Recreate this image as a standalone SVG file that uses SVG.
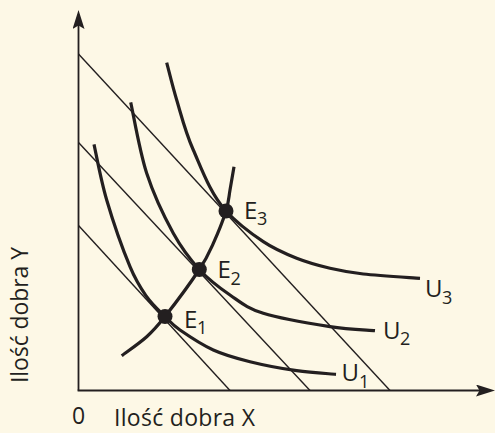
<svg xmlns="http://www.w3.org/2000/svg" width="495" height="433" viewBox="0 0 495 433">
  <defs>
    <style>
      .axis { stroke: #231F20; stroke-width: 1.8; fill: none; }
      .budget { stroke: #231F20; stroke-width: 1.4; fill: none; }
      .curve { stroke: #231F20; stroke-width: 3.2; fill: none; stroke-linecap: butt; }
      .dot { fill: #231F20; }
      .lbl { font-family: "Open Sans", "Noto Sans", "DejaVu Sans", sans-serif; fill: #231F20; font-size: 24px; }
      .sub { font-size: 18px; }
    </style>
    <marker id="arrow" markerUnits="userSpaceOnUse" markerWidth="19" markerHeight="12" viewBox="0 0 19 12" refX="7" refY="6" orient="auto">
      <path d="M0,0 L19,6 L0,12 L3.5,6 Z" fill="#231F20"/>
    </marker>
  </defs>
  <rect x="0" y="0" width="495" height="433" fill="#FDF8E6"/>

  <g id="axes">
    <line class="axis" x1="78.5" y1="390.5" x2="78.5" y2="22" marker-end="url(#arrow)"/>
    <line class="axis" x1="77.6" y1="390.5" x2="483" y2="390.5" marker-end="url(#arrow)"/>
  </g>

  <g id="connectors">
    <g id="budget-lines">
      <line class="budget" x1="78.5" y1="225.5" x2="230" y2="390.5"/>
      <line class="budget" x1="78.5" y1="142.5" x2="310" y2="390.5"/>
      <line class="budget" x1="78.5" y1="54" x2="390" y2="390.5"/>
    </g>
    <path id="expansion-path" class="curve" d="M121.7,355.7 C125.9,352.5 139.5,343.2 146.7,336.7 C153.9,330.2 156.2,327.7 165,316.5 C173.8,305.3 191.3,281.7 199.3,269.5 C207.4,257.3 208.9,253.1 213.3,243.3 C217.75,233.55 223.2,219.9 226,211 C228.8,202.1 228.7,197.4 230,190 C231.3,182.6 233.3,170.6 234,166.7"/>
  </g>

  <g id="U1">
    <path class="curve" d="M94,144.3 C96.1,153.6 100.7,179.6 106.7,200 C112.7,220.4 123.3,250.6 130,266.7 C136.7,282.8 140.9,288.4 146.7,296.7 C152.5,305 159.5,311 165,316.5 C170.6,322 172,324.4 180,330 C188.1,335.6 201.6,344.7 213.3,350 C225,355.3 236.1,358.3 250,361.7 C263.9,365.2 282.4,368.6 296.7,370.7 C311,372.8 329.5,373.7 336,374.3"/>
    <text class="lbl" x="341.5" y="380.5">U<tspan class="sub" x="359" y="388">1</tspan></text>
  </g>
  <g id="U2">
    <path class="curve" d="M130.7,102.3 C133.4,114.1 139.6,151.5 146.7,173.3 C153.8,195.1 164.5,217.3 173.3,233.3 C182.1,249.3 189.9,259.2 199.3,269.5 C208.8,279.8 219.3,287.7 230,295 C240.7,302.3 246.6,308 263.3,313.3 C280,318.6 311.4,323.8 330,326.7 C348.6,329.6 367.5,330 375,330.7"/>
    <text class="lbl" x="383" y="339">U<tspan class="sub" x="400" y="345">2</tspan></text>
  </g>
  <g id="U3">
    <path class="curve" d="M166.7,62.7 C168.4,68.9 172.3,85.4 176.7,100 C181.1,114.6 185.1,131.5 193.3,150 C201.5,168.5 210.5,194 226,211 C236.8,222.8 251.5,233.8 263.3,241.7 C275.1,249.6 285.6,253.9 296.7,258.3 C307.8,262.7 318.9,265.7 330,268.3 C341.1,270.9 348.3,272.3 363.3,274 C378.3,275.7 410.6,277.6 420,278.3"/>
    <text class="lbl" x="425" y="296.7">U<tspan class="sub" x="442" y="304">3</tspan></text>
  </g>

  <g id="E1">
    <circle class="dot" cx="165" cy="316.5" r="7.5"/>
    <text class="lbl" x="184" y="328">E<tspan class="sub" x="197" y="334">1</tspan></text>
  </g>
  <g id="E2">
    <circle class="dot" cx="199.3" cy="269.5" r="7.5"/>
    <text class="lbl" x="217.5" y="278.3">E<tspan class="sub" x="230.5" y="285">2</tspan></text>
  </g>
  <g id="E3">
    <circle class="dot" cx="226" cy="211" r="7.5"/>
    <text class="lbl" x="244" y="219">E<tspan class="sub" x="257" y="225">3</tspan></text>
  </g>

  <g id="axis-labels">
    <text class="lbl" x="72" y="424" style="font-size:23px">0</text>
    <text class="lbl" x="114" y="426" style="font-size:23px" textLength="141" lengthAdjust="spacing">Ilość dobra X</text>
    <text class="lbl" transform="translate(28,383) rotate(-90)" x="0" y="0" style="font-size:23px" textLength="136" lengthAdjust="spacing">Ilość dobra Y</text>
  </g>
</svg>
